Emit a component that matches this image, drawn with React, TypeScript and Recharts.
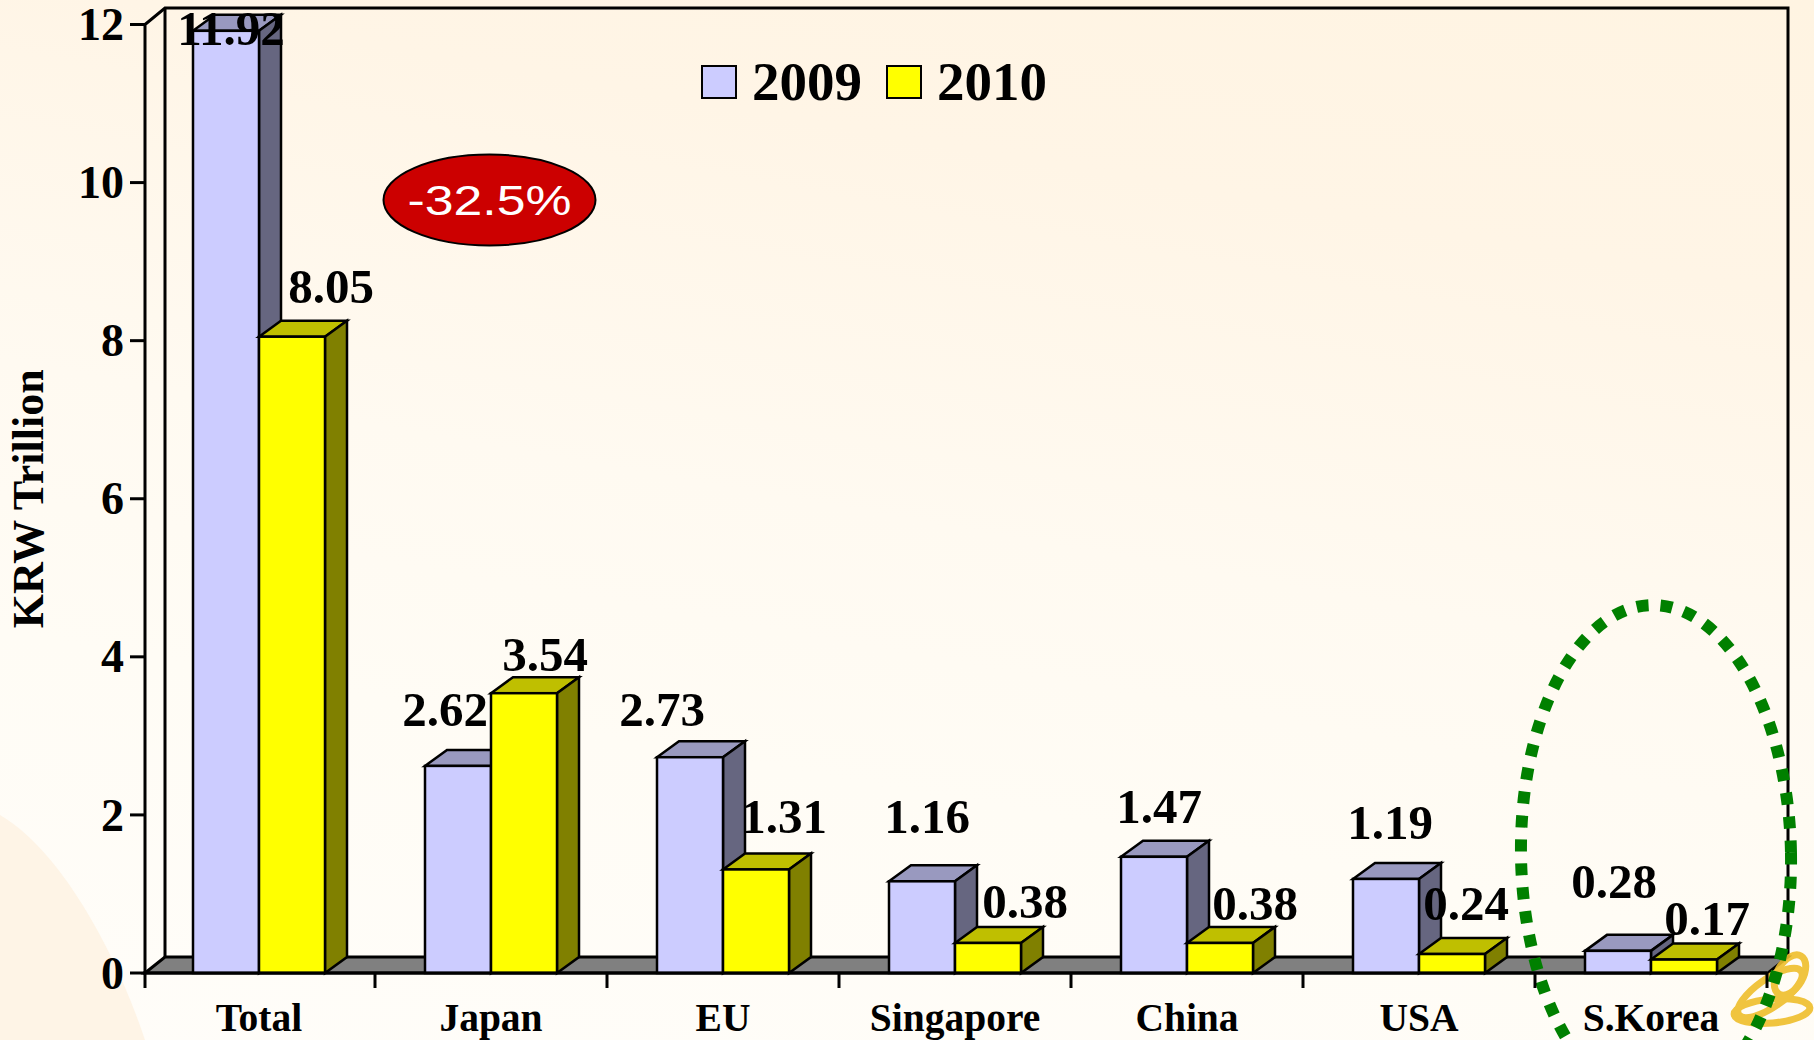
import React from "react";
import { BarChart, Bar, XAxis, YAxis, LabelList, Legend, Customized } from "recharts";

const categories = ["Total", "Japan", "EU", "Singapore", "China", "USA", "S.Korea"];
const values2009 = [11.92, 2.62, 2.73, 1.16, 1.47, 1.19, 0.28];
const values2010 = [8.05, 3.54, 1.31, 0.38, 0.38, 0.24, 0.17];
const yTicks = [0, 2, 4, 6, 8, 10, 12];
const data = categories.map((name, i) => ({ name, y2009: values2009[i], y2010: values2010[i] }));

// hand-placed label nudges (relative to the bar's own top centre), as in the source slide
const nudge2009 = [[5, -2], [-13, -57], [-28, -48], [5, -65], [5, -50], [4, -57], [-4, -70]];
const nudge2010 = [[39, -50], [21, -39], [28, -53], [37, -42], [35, -40], [14, -51], [23, -41]];

const W = 1814, H = 1040;
const PLOT = { left: 143, right: 1767, top: 24.5, bottom: 973 };
const BAND = (PLOT.right - PLOT.left) / categories.length;
const DX = 22, DY = 16;
const SERIF = "'Liberation Serif', 'Times New Roman', serif";
const SANS = "'Liberation Sans', Arial, sans-serif";
const INK = "#000";
const LINE = 3;

const palette = {
  y2009: { front: "#CCCCFF", top: "#9999BF", side: "#666680" },
  y2010: { front: "#FFFF00", top: "#BFBF00", side: "#808000" },
};

function Box3D(props: any) {
  const { x, y, width, height, colors } = props;
  const r = x + width, b = y + height;
  const stroke = { stroke: INK, strokeWidth: LINE - 0.5, strokeLinejoin: "miter" as const };
  return (
    <g>
      <polygon points={`${x},${y} ${x + DX},${y - DY} ${r + DX},${y - DY} ${r},${y}`} fill={colors.top} {...stroke} />
      <polygon points={`${r},${y} ${r + DX},${y - DY} ${r + DX},${b - DY} ${r},${b}`} fill={colors.side} {...stroke} />
      <rect x={x} y={y} width={width} height={height} fill={colors.front} {...stroke} />
    </g>
  );
}

const Value = (nudges: number[][]) => (props: any) => {
  const { x, y, width, value, index } = props;
  const [dx, dy] = nudges[index];
  return (
    <text x={x + width / 2 + dx} y={y + dy} dy="0.34em" textAnchor="middle"
      fontFamily={SERIF} fontWeight={700} fontSize={49} fill={INK}>
      {Number(value).toFixed(2)}
    </text>
  );
};

function YTick(props: any) {
  const { y, payload } = props;
  return (
    <g>
      <line x1={130} x2={146} y1={y} y2={y} stroke={INK} strokeWidth={LINE} />
      <text x={124} y={y} dy="0.34em" textAnchor="end" fontFamily={SERIF} fontWeight={700} fontSize={46} fill={INK}>
        {payload.value}
      </text>
    </g>
  );
}

function XTick(props: any) {
  const { x, payload, index } = props;
  const tx = Math.max(145, x - BAND / 2);
  return (
    <g>
      <line x1={tx} x2={tx} y1={PLOT.bottom} y2={988} stroke={INK} strokeWidth={LINE} />
      {index === categories.length - 1 && (
        <line x1={PLOT.right} x2={PLOT.right} y1={PLOT.bottom} y2={988} stroke={INK} strokeWidth={LINE} />
      )}
      <text x={x} y={1018} dy="0.34em" textAnchor="middle" fontFamily={SERIF} fontWeight={700} fontSize={39.5} fill={INK}>
        {payload.value}
      </text>
    </g>
  );
}

function AxisTitle(props: any) {
  const { viewBox } = props;
  const cy = viewBox.y + viewBox.height / 2;
  return (
    <text x={28} y={cy} dy="0.34em" textAnchor="middle" transform={`rotate(-90 28 ${cy})`}
      fontFamily={SERIF} fontWeight={700} fontSize={44} fill={INK}>
      KRW Trillion
    </text>
  );
}

function Walls() {
  const x0 = 145, x1 = 165, xr = 1788, yTop = 8, yBack = PLOT.bottom - DY;
  return (
    <g>
      <polygon points={`${x0},${PLOT.bottom} ${x1},${yBack} ${xr},${yBack} ${PLOT.right + 1},${PLOT.bottom}`}
        fill="#808080" stroke={INK} strokeWidth={LINE} />
      <polyline points={`${x0},${PLOT.bottom} ${x0},${PLOT.top} ${x1},${yTop} ${xr},${yTop} ${xr},${yBack}`}
        fill="none" stroke={INK} strokeWidth={LINE} />
      <line x1={x1} x2={x1} y1={yTop} y2={yBack} stroke={INK} strokeWidth={LINE} />
    </g>
  );
}

function Overlays() {
  return (
    <g>
      <ellipse cx={489.5} cy={200} rx={106} ry={45.5} fill="#CC0000" stroke={INK} strokeWidth={2} />
      <text x={489.5} y={200} dy="0.36em" textAnchor="middle" fontFamily={SANS} fontSize={42} fill="#fff"
        textLength={164} lengthAdjust="spacingAndGlyphs">-32.5%</text>
      <g fill="none" stroke="#EFBE2C" strokeWidth={7} opacity={0.9}>
        <ellipse cx={1772} cy={1011} rx={38} ry={12} transform="rotate(-5 1772 1011)" />
        <ellipse cx={1770} cy={993} rx={38} ry={14} transform="rotate(-35 1770 993)" />
        <ellipse cx={1790} cy={975} rx={22} ry={13} transform="rotate(-60 1790 975)" />
      </g>
      <ellipse cx={1656} cy={855} rx={135} ry={250} fill="none" stroke="#008000" strokeWidth={12}
        strokeDasharray="12 12" transform="rotate(-1 1656 855)" />
    </g>
  );
}

function LegendBox(props: any) {
  const items = props.payload || [];
  return (
    <div style={{ display: "flex", alignItems: "center", height: 60 }}>
      {items.map((it: any, i: number) => (
        <div key={it.value} style={{ display: "flex", alignItems: "center", marginLeft: i ? 24 : 0 }}>
          <span style={{ width: 36, height: 34, background: it.color, border: "2px solid #000", boxSizing: "border-box", marginRight: 15 }} />
          <span style={{ fontFamily: SERIF, fontWeight: 700, fontSize: 55, color: "#000", lineHeight: "60px" }}>{it.value}</span>
        </div>
      ))}
    </div>
  );
}

export default function App() {
  return (
    <div style={{ position: "absolute", left: 0, top: 0, width: W, height: H, overflow: "hidden",
      background: "linear-gradient(190deg, #FFF4E2 0%, #FFF5E6 22%, #FFFAF1 50%, #FFFCF5 70%, #FFFDF9 100%)" }}>
      <svg width={W} height={H} style={{ position: "absolute", left: 0, top: 0 }}>
        <path d="M0 815 C 60 850 115 950 145 1040 L0 1040 Z" fill="#FEF4E6" />
      </svg>
      <div style={{ position: "absolute", left: 0, top: 0 }}>
        <BarChart width={W} height={H} data={data} barSize={66} barGap={0}
          margin={{ top: PLOT.top, right: W - PLOT.right, bottom: 0, left: 0 }}>
          <Customized component={Walls} />
          <XAxis dataKey="name" height={H - PLOT.bottom} axisLine={{ stroke: INK, strokeWidth: LINE }} tickLine={false}
            tick={XTick} interval={0} />
          <YAxis width={PLOT.left} domain={[0, 12]} ticks={yTicks} axisLine={false} tickLine={false} tick={YTick}
            interval={0} label={{ content: AxisTitle as any }} />
          <Legend verticalAlign="middle" align="center" layout="horizontal" content={LegendBox as any}
            wrapperStyle={{ position: "absolute", left: 701, top: 52, width: 400, height: 60 }} />
          <Bar dataKey="y2009" name="2009" fill={palette.y2009.front} isAnimationActive={false}
            shape={(p: any) => <Box3D {...p} colors={palette.y2009} />}>
            <LabelList dataKey="y2009" content={Value(nudge2009)} />
          </Bar>
          <Bar dataKey="y2010" name="2010" fill={palette.y2010.front} isAnimationActive={false}
            shape={(p: any) => <Box3D {...p} colors={palette.y2010} />}>
            <LabelList dataKey="y2010" content={Value(nudge2010)} />
          </Bar>
          <Customized component={Overlays} />
        </BarChart>
      </div>
    </div>
  );
}
